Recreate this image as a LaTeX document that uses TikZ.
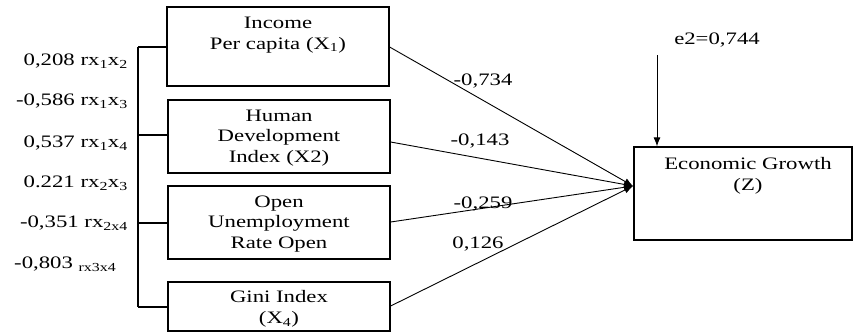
\documentclass[tikz,border=0pt]{standalone}
\usepackage{fontspec}
\setmainfont{Liberation Serif}[FakeStretch=1.3]
\usetikzlibrary{arrows.meta}
\begin{document}
\begin{tikzpicture}[x=1pt,y=-1pt,
  box/.style={draw, line width=1.3pt, rectangle, inner sep=0pt},
  txt/.style={inner sep=0pt, align=center, font=\fontsize{17.5}{20.5}\selectfont},
  lbl/.style={inner sep=0pt, font=\fontsize{17.5}{20}\selectfont},
  path/.style={line width=0.9pt, -{Latex[length=9pt,width=7pt]}},
  link/.style={line width=1.1pt}]
\useasboundingbox (0,0) rectangle (854,333);
% boxes
\node[box, minimum width=222pt, minimum height=79pt] (b1) at (278,46.5) {};
\node[box, minimum width=222pt, minimum height=73pt] (b2) at (279,136.5) {};
\node[box, minimum width=222pt, minimum height=73pt] (b3) at (279,222.5) {};
\node[box, minimum width=222pt, minimum height=49pt] (b4) at (279,306.5) {};
\node[box, minimum width=218pt, minimum height=93pt] (z) at (743,193.5) {};
% box texts
\node[txt] (t1) at (278,35) {Income\\Per capita (X\textsubscript{1})};
\node[txt] (t2) at (279,138) {Human\\Development\\Index (X2)};
\node[txt] (t3) at (279,224) {Open\\Unemployment\\Rate Open};
\node[txt] (t4) at (279,309) {Gini Index\\(X\textsubscript{4})};
\node[txt] (tz) at (748,176) {Economic Growth\\(Z)};
% bracket
\coordinate (k1) at (138,47);
\coordinate (k2) at (138,135);
\coordinate (k3) at (138,223);
\coordinate (k4) at (138,307);
\draw[link] (k1) -- (k4);
\draw[link] (k1) -- (b1.west |- k1);
\draw[link] (k2) -- (b2.west |- k2);
\draw[link] (k3) -- (b3.west |- k3);
\draw[link] (k4) -- (b4.west |- k4);
% correlation labels
\node[lbl, anchor=east] (r12) at (128,61) {0,208 rx\textsubscript{1}x\textsubscript{2}};
\node[lbl, anchor=east] (r13) at (128,101) {-0,586 rx\textsubscript{1}x\textsubscript{3}};
\node[lbl, anchor=east] (r14) at (128,143) {0,537 rx\textsubscript{1}x\textsubscript{4}};
\node[lbl, anchor=east] (r23) at (128,183) {0.221 rx\textsubscript{2}x\textsubscript{3}};
\node[lbl, anchor=east] (r24) at (128,223) {-0,351 rx\textsubscript{2x4}};
\node[lbl, anchor=west] (r34) at (14,264) {-0,803 \textsubscript{rx3x4}};
% paths
\coordinate (tip) at (633,186);
\draw[path] (b1.east |- 0,47) -- (tip);
\draw[path] (b2.east |- 0,142) -- (tip);
\draw[path] (b3.east |- 0,222) -- (tip);
\draw[path] (b4.east |- 0,306) -- (tip);
\node[lbl] (c1) at (483,81) {-0,734};
\node[lbl] (c2) at (480,141) {-0,143};
\node[lbl] (c3) at (483,204) {-0,259};
\node[lbl] (c4) at (478,244) {0,126};
% error
\node[lbl] (e2) at (717,40) {e2=0,744};
\coordinate (etop) at (657,55);
\draw[path] (etop) -- (z.north -| etop);
\end{tikzpicture}
\end{document}
